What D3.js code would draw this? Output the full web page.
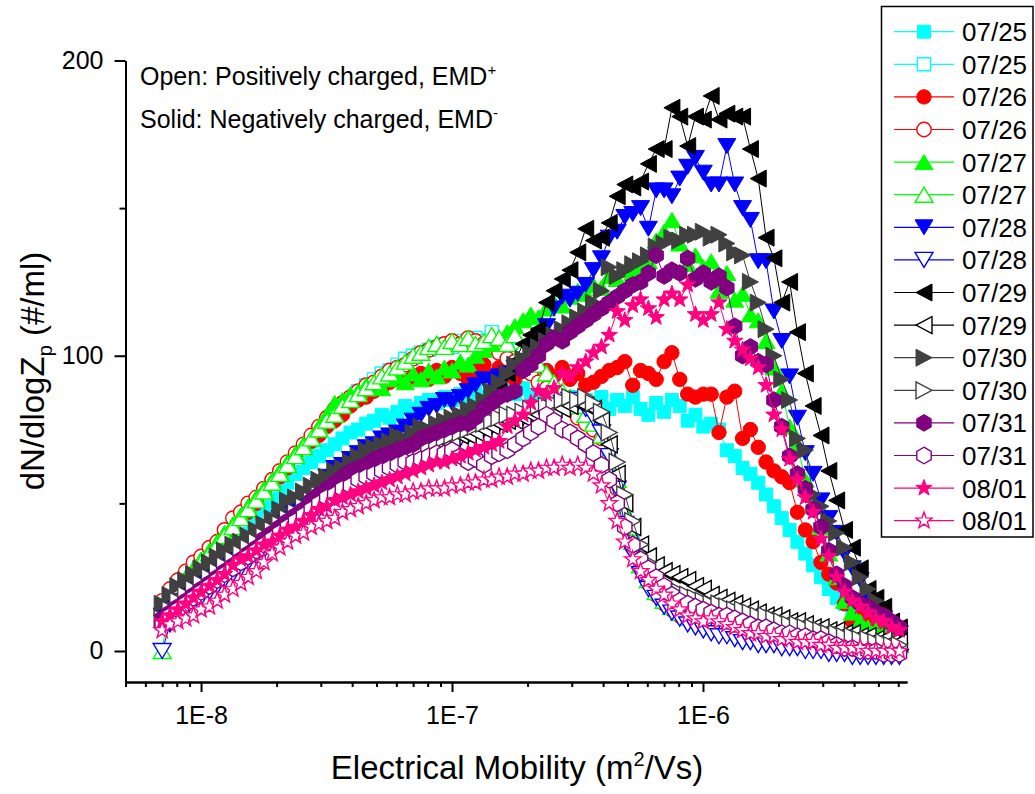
<!DOCTYPE html>
<html>
<head>
<meta charset="utf-8">
<script src="https://cdn.jsdelivr.net/npm/d3@7"></script>
<style>
  body { margin: 0; background: #fff; }
  svg { display: block; }
  text { font-family: "Liberation Sans", Arial, Helvetica, sans-serif; fill: #000; }
</style>
</head>
<body>
<svg id="chart" width="1035" height="794"></svg>
<script>
// Mobility bin centres (unit: 1e-9 m2/Vs), 32 bins per decade
const mobilityNano = [
  7.00, 7.52, 8.08, 8.69, 9.33, 10.0, 10.8, 11.6, 12.4, 13.4, 14.4, 15.4, 16.6, 17.8, 19.2, 20.6,
  22.1, 23.8, 25.6, 27.5, 29.5, 31.7, 34.1, 36.6, 39.4, 42.3, 45.5, 48.9, 52.5, 56.4, 60.6, 65.1,
  70.0, 75.2, 80.8, 86.9, 93.3, 100, 108, 116, 124, 134, 144, 154, 166, 178, 192, 206,
  221, 238, 255, 275, 295, 317, 341, 366, 394, 423, 455, 488, 525, 564, 606, 651,
  700, 752, 808, 869, 933, 1003, 1078, 1158, 1245, 1338, 1438, 1545, 1660, 1784, 1917, 2060,
  2214, 2379, 2557, 2747, 2952, 3173, 3409, 3664, 3937, 4231, 4546, 4885, 5250, 5642, 6062
];

// dN/dlogZp (#/ml) — negatively charged (solid symbols)
const neg0725 = [13,17,20,22,25, 28,30,33,36,39, 41,44,47,49,51, 54,57,60,62,64, 66,68,70,72,74, 75,77,78,80,79, 81,83,82,84,85, 84,86,85,87,86, 88,86,87,89,88, 87,89,86,88,85, 87,84,86,83,85, 84,86,82,85,83, 86,82,80,84,81, 85,83,78,80,76, 77,75,68,66,62, 60,57,53,49,45, 41,37,33,29,25, 21,18,16,14,12, 10,8,7,6,5];
const neg0726 = [16,20,23,26,28, 31,34,36,39,42, 45,47,50,54,58, 59,62,66,69,71, 73,76,78,80,83, 85,86,88,89,91, 92,91,93,94,92, 95,93,96,94,92, 95,97,93,96,94, 92,96,94,91,95, 93,96,92,94,90, 91,93,95,96,98, 90,95,94,92,98, 101,92,87,86,87, 87,74,86,88,72, 75,69,64,61,59, 57,47,41,37,30, 26,23,16,10,12, 9,7,8,6,5];
const neg0727 = [15,18,21,25,28, 31,34,37,40,43, 46,49,52,55,58, 61,64,67,70,72, 76,80,84,85,87, 88,90,91,89,92, 93,91,94,92,95, 93,96,95,98,97, 100,102,104,106,108, 110,112,114,113,116, 118,117,120,122,121, 124,123,127,126,129, 128,130,132,139,142, 146,138,131,134,130, 132,122,128,119,121, 114,112,105,96,88, 76,70,58,50,42, 33,25,17,13,10, 8,7,6,5,5];
const neg0728 = [12,15,17,19,21, 23,25,27,29,31, 34,36,38,40,42, 45,47,49,51,53, 56,59,62,63,65, 67,69,70,72,73, 74,76,78,80,82, 83,85,84,86,88, 90,92,91,93,94, 96,95,98,103,110, 116,120,119,121,124, 129,133,140,142,147, 148,150,143,156,156, 154,160,164,167,162, 158,158,171,158,150, 146,132,132,115,105, 93,79,67,60,51, 45,40,33,28,24, 17,14,11,8,6];
const neg0729 = [10,14,17,19,21, 23,25,27,29,31, 33,35,37,39,41, 43,45,47,49,51, 53,55,57,59,61, 63,64,66,68,69, 70,72,73,74,75, 76,77,76,78,79, 80,83,86,90,94, 98,104,107,109,118, 122,126,129,135,143, 139,140,145,154,158, 157,159,165,170,170, 184,181,171,181,180, 188,180,182,181,181, 170,160,140,133,118, 125,108,94,83,73, 61,51,41,35,28, 21,18,15,10,8];
const neg0730 = [16,19,22,24,26, 28,30,32,34,36, 37,39,41,43,45, 48,51,52,54,56, 58,59,61,62,64, 66,68,69,70,71, 73,72,74,76,75, 77,78,79,80,82, 83,85,88,91,94, 97,99,101,103,105, 107,109,111,113,115, 118,122,130,127,129, 131,132,134,137,138, 140,139,141,141,142, 140,141,138,135,134, 125,118,109,100,92, 85,72,68,53,49, 44,40,35,30,25, 21,17,13,10,8];
const neg0731 = [11,13,15,17,19, 21,23,25,27,29, 31,33,35,38,40, 42,44,46,48,51, 53,55,57,59,61, 62,63,65,66,67, 68,69,70,72,73, 74,75,76,77,77, 79,82,84,86,87, 88,95,97,100,104, 106,105,108,110,112, 114,116,118,120,122, 124,125,128,134,127, 129,128,133,126,128, 125,127,123,110,100, 103,98,97,85,76, 66,60,55,48,42, 34,26,22,18,16, 15,13,12,10,8];
const neg0801 = [10,12,14,16,18, 20,22,24,26,29, 31,32,34,36,37, 39,41,42,44,46, 48,49,51,52,53, 54,55,56,57,58, 59,60,61,62,63, 64,64,65,66,67, 68,69,70,71,76, 78,80,84,88,87, 89,94,93,96,98, 101,103,107,115,112, 117,119,116,113,119, 121,119,124,114,112, 114,118,109,105,102, 99,96,90,80,75, 65,58,52,47,38, 32,25,20,17,15, 13,11,10,8,7];

// dN/dlogZp (#/ml) — positively charged (open symbols)
const pos0725 = [15,19,22,25,27, 30,33,35,38,41, 44,47,50,53,56, 59,62,65,68,71, 74,77,80,83,85, 88,90,92,94,95, 97,99,100,101,102, 103,104,103,105,104, 106,105,108,104,102, 100,97,95,92,89, 87,85,83,84,81, 78,74,66,57,46, 37,30,25,22,19, 16,13,11,10,9, 8,7,7,6,6, 5,5,4,4,3, 3,3,2,2,2, 2,2,1,1,1, 1,1,1,1,0];
const pos0726 = [17,21,24,27,30, 32,35,37,41,45, 47,50,52,55,58, 61,64,67,70,73, 76,79,82,84,86, 88,90,91,93,95, 96,97,99,101,102, 103,104,105,104,106, 105,104,103,101,99, 98,96,94,91,89, 87,84,82,79,77, 75,72,65,55,45, 35,28,23,19,16, 14,12,11,10,9, 8,8,7,6,6, 5,5,4,4,4, 3,3,3,2,2, 2,2,2,1,1, 1,1,1,1,1];
const pos0727 = [0,18,21,24,27, 30,33,36,39,42, 45,48,51,54,57, 60,63,66,69,72, 75,78,80,83,85, 87,89,91,93,94, 96,98,100,101,103, 104,103,105,104,106, 104,105,107,106,104, 107,103,100,97,94, 91,88,86,83,80, 77,73,67,58,47, 37,29,24,20,17, 15,13,12,11,10, 9,9,8,7,7, 6,6,5,5,5, 4,4,4,3,3, 3,3,3,2,2, 2,2,2,2,2];
const pos0728 = [0,9,12,14,16, 18,20,22,24,26, 28,30,32,34,36, 38,40,42,44,46, 48,50,52,53,55, 57,58,60,61,62, 64,65,66,67,68, 70,70,71,72,73, 74,75,76,77,78, 78,79,80,81,82, 83,84,85,84,82, 79,74,66,55,43, 33,26,21,18,15, 13,11,9,8,7, 6,5,5,4,3, 3,2,2,2,1, 1,1,0,0,0, -1,-1,-1,-2,-2, -2,-2,-2,-2,-2];
const pos0729 = [12,15,17,19,21, 23,25,27,29,31, 33,35,37,39,41, 43,45,46,48,50, 52,53,55,56,58, 59,61,62,63,64, 65,66,67,68,69, 70,71,72,73,73, 74,75,76,77,78, 78,79,80,80,81, 82,82,83,84,83, 82,78,70,60,50, 42,36,32,29,27, 26,25,24,22,21, 19,18,17,16,15, 14,13,12,12,11, 10,10,9,8,8, 7,7,6,6,5, 5,4,4,3,3];
const pos0730 = [11,14,17,19,21, 23,25,27,29,31, 33,35,37,39,41, 43,45,47,49,51, 53,54,56,57,59, 60,62,63,64,65, 66,67,68,69,70, 71,72,73,74,75, 76,77,78,79,80, 80,81,82,83,83, 84,85,86,85,86, 84,81,74,64,53, 44,36,30,26,23, 21,20,19,18,17, 16,16,15,14,14, 13,12,12,11,10, 9,9,8,8,7, 6,6,5,5,4, 4,3,3,2,2];
const pos0731 = [9,12,14,16,18, 20,22,24,26,28, 30,32,34,36,38, 40,42,44,46,48, 50,52,53,55,56, 58,59,60,61,62, 63,64,64,65,66, 67,67,68,66,64, 65,63,66,67,68, 70,72,74,76,80, 78,75,74,72,70, 67,63,58,50,42, 36,31,28,25,22, 19,17,16,15,14, 13,12,12,11,10, 9,8,8,7,6, 6,5,5,4,4, 3,2,1,1,0, 0,0,-1,-1,-1];
const pos0801 = [7,9,10,11,12, 14,15,17,19,21, 23,25,27,30,33, 35,37,39,40,42, 43,44,45,47,48, 49,50,51,52,52, 53,53,54,54,55, 55,55,56,56,57, 57,58,58,59,59, 60,60,61,61,62, 62,63,62,63,62, 60,56,50,44,37, 31,27,24,21,19, 16,14,12,11,10, 11,10,9,8,7, 6,6,5,5,4, 4,3,3,3,2, 2,1,1,1,1, 0,0,0,0,0];

const xMajorTicks = [1e-8, 1e-7, 1e-6];
const xMajorLabels = ["1E-8", "1E-7", "1E-6"];
const yMajorTicks = [0, 100, 200];
const yMinorTicks = [50, 150];

// Plot order and styling (later entries are drawn on top)
const series = [
  { label: "07/25", values: neg0725, color: "#00FFFF", shape: "square",   open: false },
  { label: "07/25", values: pos0725, color: "#00FFFF", shape: "square",   open: true  },
  { label: "07/26", values: neg0726, color: "#FF0000", shape: "circle",   open: false },
  { label: "07/26", values: pos0726, color: "#FF0000", shape: "circle",   open: true  },
  { label: "07/27", values: neg0727, color: "#00FF00", shape: "triUp",    open: false },
  { label: "07/27", values: pos0727, color: "#00FF00", shape: "triUp",    open: true  },
  { label: "07/28", values: neg0728, color: "#0000FF", shape: "triDown",  open: false },
  { label: "07/28", values: pos0728, color: "#0000FF", shape: "triDown",  open: true  },
  { label: "07/29", values: neg0729, color: "#000000", shape: "triLeft",  open: false },
  { label: "07/29", values: pos0729, color: "#000000", shape: "triLeft",  open: true  },
  { label: "07/30", values: neg0730, color: "#404040", shape: "triRight", open: false },
  { label: "07/30", values: pos0730, color: "#404040", shape: "triRight", open: true  },
  { label: "07/31", values: neg0731, color: "#800080", shape: "hexagon",  open: false },
  { label: "07/31", values: pos0731, color: "#800080", shape: "hexagon",  open: true  },
  { label: "08/01", values: neg0801, color: "#FF0080", shape: "star",     open: false },
  { label: "08/01", values: pos0801, color: "#FF0080", shape: "star",     open: true  }
];

// Marker outlines, centred on (0,0)
function markerPath(shape) {
  switch (shape) {
    case "square":   return "M-6.5,-6.5H6.5V6.5H-6.5Z";
    case "circle":   return "M7.2,0A7.2,7.2 0 1,1 -7.2,0A7.2,7.2 0 1,1 7.2,0Z";
    case "triUp":    return "M0,-7.5L9,7.5L-9,7.5Z";
    case "triDown":  return "M0,7.5L9,-7.5L-9,-7.5Z";
    case "triLeft":  return "M-8,0L8,-8.5L8,8.5Z";
    case "triRight": return "M8,0L-8,-8.5L-8,8.5Z";
    case "hexagon": {
      const r = 8.3, pts = [];
      for (let k = 0; k < 6; k++) {
        const a = (-90 + 60 * k) * Math.PI / 180;
        pts.push([r * Math.cos(a), r * Math.sin(a)]);
      }
      return "M" + pts.map(p => p[0].toFixed(2) + "," + p[1].toFixed(2)).join("L") + "Z";
    }
    case "star": {
      const ro = 8.6, ri = 3.5, pts = [];
      for (let k = 0; k < 10; k++) {
        const r = k % 2 === 0 ? ro : ri;
        const a = (-90 + 36 * k) * Math.PI / 180;
        pts.push([r * Math.cos(a), r * Math.sin(a)]);
      }
      return "M" + pts.map(p => p[0].toFixed(2) + "," + p[1].toFixed(2)).join("L") + "Z";
    }
  }
}

const svg = d3.select("#chart");
svg.append("rect").attr("width", 1035).attr("height", 794).attr("fill", "#fff");

const x = d3.scaleLog().domain([5e-9, 6.5e-6]).range([125.5, 907]);
const y = d3.scaleLinear().domain([-10.5, 200]).range([682, 60.5]);
const mobility = mobilityNano.map(v => v * 1e-9);

// Data: line then symbols, per series
const line = d3.line().x(d => x(d[0])).y(d => y(d[1]));
series.forEach(s => {
  const pts = s.values.map((v, i) => [mobility[i], v]);
  const g = svg.append("g");
  g.append("path")
    .attr("d", line(pts))
    .attr("fill", "none")
    .attr("stroke", s.color)
    .attr("stroke-width", 1);
  g.selectAll("path.m").data(pts).enter().append("path")
    .attr("class", "m")
    .attr("d", markerPath(s.shape))
    .attr("transform", d => `translate(${x(d[0])},${y(d[1])})`)
    .attr("fill", s.open ? "#fff" : s.color)
    .attr("stroke", s.color)
    .attr("stroke-width", s.open ? 1.4 : 1);
});

// Axes
function styleAxis(g) {
  g.selectAll("path.domain").attr("stroke", "#000").attr("stroke-width", 2);
  g.selectAll(".tick line").attr("stroke", "#000").attr("stroke-width", 2);
  g.selectAll(".tick text")
    .attr("font-family", "Liberation Sans, Arial, sans-serif")
    .attr("font-size", 25).attr("fill", "#000");
}

const xMinor = [];
[1e-9, 1e-8, 1e-7, 1e-6].forEach(dec => {
  for (let m = 2; m <= 9; m++) {
    const v = m * dec;
    if (v >= 5e-9 && v <= 6.5e-6) xMinor.push(v);
  }
});

svg.append("g")
  .attr("transform", "translate(0,682)")
  .call(d3.axisBottom(x).tickValues(xMinor).tickSize(5).tickSizeOuter(0).tickFormat(""))
  .call(styleAxis);
svg.append("g")
  .attr("transform", "translate(0,682)")
  .call(d3.axisBottom(x).tickValues(xMajorTicks).tickSize(10).tickSizeOuter(0).tickPadding(14)
        .tickFormat((d, i) => xMajorLabels[i]))
  .call(styleAxis);

svg.append("g")
  .attr("transform", "translate(125.5,0)")
  .call(d3.axisLeft(y).tickValues(yMinorTicks).tickSize(6).tickSizeOuter(0).tickFormat(""))
  .call(styleAxis);
svg.append("g")
  .attr("transform", "translate(125.5,0)")
  .call(d3.axisLeft(y).tickValues(yMajorTicks).tickSize(11).tickSizeOuter(0).tickPadding(11).tickFormat(d3.format("d")))
  .call(styleAxis);

// Axis titles
const xt = svg.append("text").attr("x", 517).attr("y", 779)
  .attr("text-anchor", "middle").attr("font-size", 33);
xt.append("tspan").text("Electrical Mobility (m");
xt.append("tspan").attr("font-size", 20).attr("dy", -13).text("2");
xt.append("tspan").attr("dy", 13).text("/Vs)");

const yt = svg.append("text")
  .attr("transform", "translate(44,371) rotate(-90)")
  .attr("text-anchor", "middle").attr("font-size", 33);
yt.append("tspan").text("dN/dlogZ");
yt.append("tspan").attr("font-size", 20).attr("dy", 8).text("p");
yt.append("tspan").attr("dy", -8).text(" (#/ml)");

// Annotation
const a1 = svg.append("text").attr("x", 140).attr("y", 85).attr("font-size", 25);
a1.append("tspan").text("Open: Positively charged, EMD");
a1.append("tspan").attr("font-size", 15).attr("dy", -10).text("+");
const a2 = svg.append("text").attr("x", 140).attr("y", 128).attr("font-size", 25);
a2.append("tspan").text("Solid: Negatively charged, EMD");
a2.append("tspan").attr("font-size", 15).attr("dy", -10).text("-");

// Legend
const legend = svg.append("g");
legend.append("rect")
  .attr("x", 881.5).attr("y", 6.5).attr("width", 151.5).attr("height", 530.5)
  .attr("fill", "#fff").attr("stroke", "#000").attr("stroke-width", 1.5);
series.forEach((s, k) => {
  const cy = 31.7 + k * 32.6;
  const row = legend.append("g");
  row.append("line").attr("x1", 894).attr("x2", 954).attr("y1", cy).attr("y2", cy)
    .attr("stroke", s.color).attr("stroke-width", 1.2);
  row.append("path").attr("d", markerPath(s.shape))
    .attr("transform", `translate(924,${cy})`)
    .attr("fill", s.open ? "#fff" : s.color)
    .attr("stroke", s.color).attr("stroke-width", s.open ? 1.4 : 1);
  row.append("text").attr("x", 962).attr("y", cy + 9.5).attr("font-size", 26).text(s.label);
});
</script>
</body>
</html>
